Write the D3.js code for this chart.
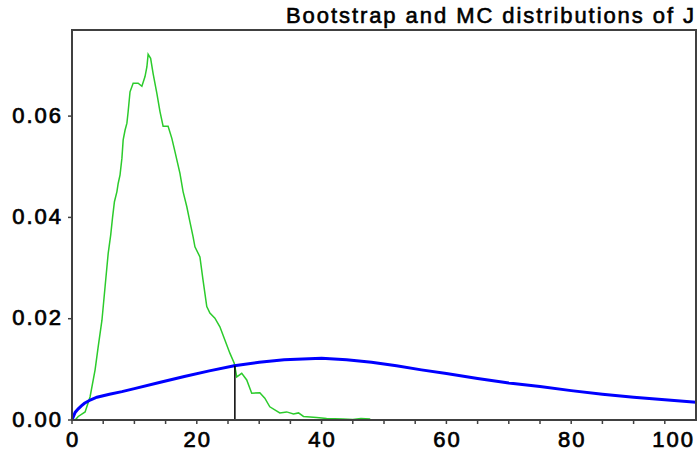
<!DOCTYPE html>
<html><head><meta charset="utf-8">
<script src="https://cdn.jsdelivr.net/npm/d3@7"></script>
<style>body{margin:0;background:#fff}</style>
</head><body><svg id="c" width="699" height="455"></svg>
<script>
const title = "Bootstrap and MC distributions of J";
const xTicks = [0, 20, 40, 60, 80, 100];
const xMinorTicks = [0,5,10,15,20,25,30,35,40,45,50,55,60,65,70,75,80,85,90,95];
const yTicks = [0, 0.02, 0.04, 0.06];
const yTickLabels = ["0.00", "0.02", "0.04", "0.06"];

// MC distribution (blue)
const mcX = [0, 0.5, 1, 1.5, 2, 3, 4, 6, 8, 10, 14, 18, 22, 26, 30, 34, 38, 40, 44, 48, 52, 56, 60, 65, 70, 75, 80, 85, 90, 95, 100];
const mcY = [0, 0.0015, 0.0022, 0.0028, 0.0033, 0.0040, 0.0045, 0.0051, 0.0056, 0.0062, 0.0074, 0.0086, 0.0097, 0.0107, 0.0114, 0.0119, 0.0121, 0.0122, 0.0119, 0.0114, 0.0107, 0.0099, 0.0092, 0.0082, 0.0073, 0.0066, 0.0058, 0.0051, 0.0045, 0.0040, 0.0035];

// Bootstrap distribution (green)
const bootX = [0.5, 1.0, 2.1, 2.9, 3.7, 4.2, 4.8, 5.3, 5.8, 6.2, 6.5, 6.8, 7.2, 7.4, 7.7, 8.0, 8.2, 8.5, 8.8, 9.0, 9.3, 9.8, 10.6, 11.2, 11.7, 12.0, 12.2, 12.6, 13.0, 13.6, 14.1, 14.6, 15.4, 16.0, 16.5, 17.3, 17.8, 18.4, 18.9, 19.4, 19.7, 20.5, 21.0, 21.6, 22.1, 22.9, 23.7, 24.5, 25.3, 26.0, 26.4, 27.2, 28.0, 28.8, 30.1, 30.9, 31.7, 33.3, 34.4, 35.5, 36.3, 37.1, 39.2, 40.8, 43.4, 45.0, 46.3, 47.8];
const bootY = [0, 0.0007, 0.0016, 0.0046, 0.0099, 0.0145, 0.0197, 0.0263, 0.0329, 0.0365, 0.0400, 0.0431, 0.0451, 0.0467, 0.0484, 0.0517, 0.0553, 0.0572, 0.0586, 0.0609, 0.0648, 0.0665, 0.0665, 0.0659, 0.0678, 0.0697, 0.0722, 0.0714, 0.0684, 0.0645, 0.0609, 0.0580, 0.0580, 0.0556, 0.0530, 0.0487, 0.0451, 0.0421, 0.0391, 0.0362, 0.0342, 0.0322, 0.0276, 0.0224, 0.0211, 0.0201, 0.0184, 0.0158, 0.0132, 0.0112, 0.0085, 0.0092, 0.0079, 0.0053, 0.0054, 0.0043, 0.0026, 0.0014, 0.0016, 0.0012, 0.0014, 0.0007, 0.0005, 0.0003, 0.0002, 0.0001, 0.0003, 0.0002];

const markerX = 26.1;
const markerTop = 0.0107;

const L = 72, R = 696, T = 30, B = 420;
const x = d3.scaleLinear().domain([0, 100]).range([L, R]);
const y = d3.scaleLinear().domain([0, 0.077]).range([B, T]);
const svg = d3.select("#c");
const font = "'Liberation Sans', Arial, sans-serif";
const axisCol = "#404040";

// curves
const line = d3.line().x(d => x(d[0])).y(d => y(d[1]));
svg.append("path").datum(bootX.map((v, i) => [v, bootY[i]]))
  .attr("d", line).attr("fill", "none").attr("stroke", "#2ccb2c").attr("stroke-width", 1.5);
svg.append("path").datum(mcX.map((v, i) => [v, mcY[i]]))
  .attr("d", line).attr("fill", "none").attr("stroke", "#0000ff").attr("stroke-width", 3);
svg.append("line").attr("x1", x(markerX)).attr("x2", x(markerX))
  .attr("y1", y(0)).attr("y2", y(markerTop)).attr("stroke", "#000").attr("stroke-width", 1.5);

// frame
svg.append("rect").attr("x", L).attr("y", T).attr("width", R - L).attr("height", B - T)
  .attr("fill", "none").attr("stroke", axisCol).attr("stroke-width", 2);

// x ticks
svg.selectAll(".xt").data(xMinorTicks).enter().append("line")
  .attr("x1", d => x(d)).attr("x2", d => x(d)).attr("y1", B).attr("y2", B + 4)
  .attr("stroke", axisCol).attr("stroke-width", 1.5);
svg.selectAll(".xl").data(xTicks).enter().append("text")
  .attr("x", d => d === 100 ? 695 : x(d) + 1).attr("y", B + 27)
  .attr("text-anchor", d => d === 100 ? "end" : "middle")
  .attr("font-family", font).attr("font-size", 22).attr("letter-spacing", 2)
  .attr("fill", "#000").attr("stroke", "#000").attr("stroke-width", 0.7)
  .text(d => d);

// y ticks
svg.selectAll(".yt").data(yTicks).enter().append("line")
  .attr("x1", L - 4).attr("x2", L).attr("y1", d => y(d)).attr("y2", d => y(d))
  .attr("stroke", axisCol).attr("stroke-width", 1.5);
svg.selectAll(".yl").data(yTicks).enter().append("text")
  .attr("x", 63).attr("y", d => y(d) + 6.5).attr("text-anchor", "end")
  .attr("font-family", font).attr("font-size", 22).attr("letter-spacing", 2)
  .attr("fill", "#000").attr("stroke", "#000").attr("stroke-width", 0.7)
  .text((d, i) => yTickLabels[i]);

// title
svg.append("text").attr("x", 286).attr("y", 23)
  .attr("font-family", font).attr("font-size", 22)
  .attr("textLength", 408).attr("lengthAdjust", "spacing")
  .attr("fill", "#000").attr("stroke", "#000").attr("stroke-width", 0.6)
  .text(title);
</script></body></html>
